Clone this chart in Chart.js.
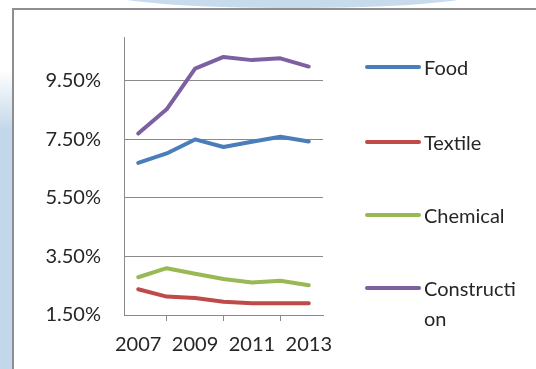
<!DOCTYPE html>
<html>
<head>
<meta charset="utf-8">
<script src="https://cdn.jsdelivr.net/npm/chart.js@4"></script>
<style>
  html, body { margin: 0; padding: 0; }
  body { width: 536px; height: 369px; position: relative; overflow: hidden; background: #fff; font-family: Lato, "Liberation Sans", sans-serif; }
  #leftstrip { position: absolute; left: 0; top: 0; width: 12px; height: 369px; background: linear-gradient(#ffffff 0px, #ffffff 70px, #c3d7ea 130px, #c3d7ea 369px); }
  #topblob { position: absolute; left: 110px; top: -20px; width: 365px; height: 28px; background: #c8dbec; border-radius: 50%; }
  #box { position: absolute; left: 12px; top: 8px; width: 540px; height: 380px; border: 2px solid #8e8e8e; background: #fff; }
  #stock-graph { position: absolute; left: 0; top: 0; }
  #legend { position: absolute; left: 365px; top: 0; }
  .item { position: absolute; left: 0; width: 170px; }
  .swatch { position: absolute; left: 0; width: 56px; height: 4px; border-radius: 2px; }
  .label { position: absolute; left: 59px; width: 96px; font-size: 20px; line-height: 30px; color: #262626; word-break: break-all; }
</style>
</head>
<body>
<div id="leftstrip"></div>
<div id="topblob"></div>
<div id="box"></div>
<canvas id="stock-graph" width="536" height="369"></canvas>
<div id="legend"></div>
<script>
var years = ['2007', '2008', '2009', '2010', '2011', '2012', '2013'];
var food = [6.70, 7.02, 7.50, 7.24, 7.42, 7.59, 7.43];
var textile = [2.38, 2.13, 2.08, 1.95, 1.90, 1.90, 1.90];
var chemical = [2.79, 3.10, 2.91, 2.73, 2.61, 2.67, 2.52];
var construction = [7.70, 8.53, 9.92, 10.32, 10.21, 10.27, 9.99];
var yTicks = [1.5, 3.5, 5.5, 7.5, 9.5];

var names = ['Food', 'Textile', 'Chemical', 'Construction'];
var colors = ['#4a7ebb', '#be4b48', '#98b954', '#7d60a0'];
var series = [food, textile, chemical, construction];

var ctx = document.getElementById('stock-graph').getContext('2d');

var chart = new Chart(ctx, {
  type: 'line',
  data: {
    labels: years,
    datasets: series.map(function (s, i) {
      return {
        label: names[i],
        data: s,
        borderColor: colors[i],
        backgroundColor: colors[i],
        borderWidth: 4,
        pointRadius: 0,
        tension: 0,
        borderCapStyle: 'round',
        borderJoinStyle: 'round'
      };
    })
  },
  options: {
    responsive: false,
    animation: false,
    layout: { padding: { top: 37, right: 213, bottom: 0, left: 0 } },
    plugins: { legend: { display: false }, tooltip: { enabled: false } },
    scales: {
      x: {
        offset: true,
        grid: { display: true, drawOnChartArea: false, drawTicks: true, tickLength: 6, offset: true, color: '#8a8a8a' },
        border: { display: true, color: '#8a8a8a', width: 1 },
        ticks: { color: '#262626', font: { family: 'Lato', size: 20 }, maxRotation: 0, minRotation: 0, autoSkip: true, padding: 12 },
        afterFit: function (axis) { axis.height = 54; }
      },
      y: {
        min: 1.5,
        max: 11.0,
        afterBuildTicks: function (axis) { axis.ticks = yTicks.map(function (v) { return { value: v }; }); },
        grid: { color: '#8a8a8a', drawTicks: false },
        border: { display: true, color: '#8a8a8a', width: 1 },
        ticks: {
          color: '#262626', font: { family: 'Lato', size: 20 }, padding: 23,
          callback: function (v) { return v.toFixed(2) + '%'; }
        },
        afterFit: function (axis) { axis.width = 124; }
      }
    }
  }
});

var legendTops = [67, 142, 215, 288];
var legend = document.getElementById('legend');
names.forEach(function (n, i) {
  var item = document.createElement('div');
  item.className = 'item';
  item.style.top = legendTops[i] + 'px';
  var sw = document.createElement('div');
  sw.className = 'swatch';
  sw.style.background = colors[i];
  sw.style.top = '-2px';
  var lb = document.createElement('div');
  lb.className = 'label';
  lb.style.top = '-15px';
  lb.textContent = n;
  item.appendChild(sw);
  item.appendChild(lb);
  legend.appendChild(item);
});
</script>
</body>
</html>
